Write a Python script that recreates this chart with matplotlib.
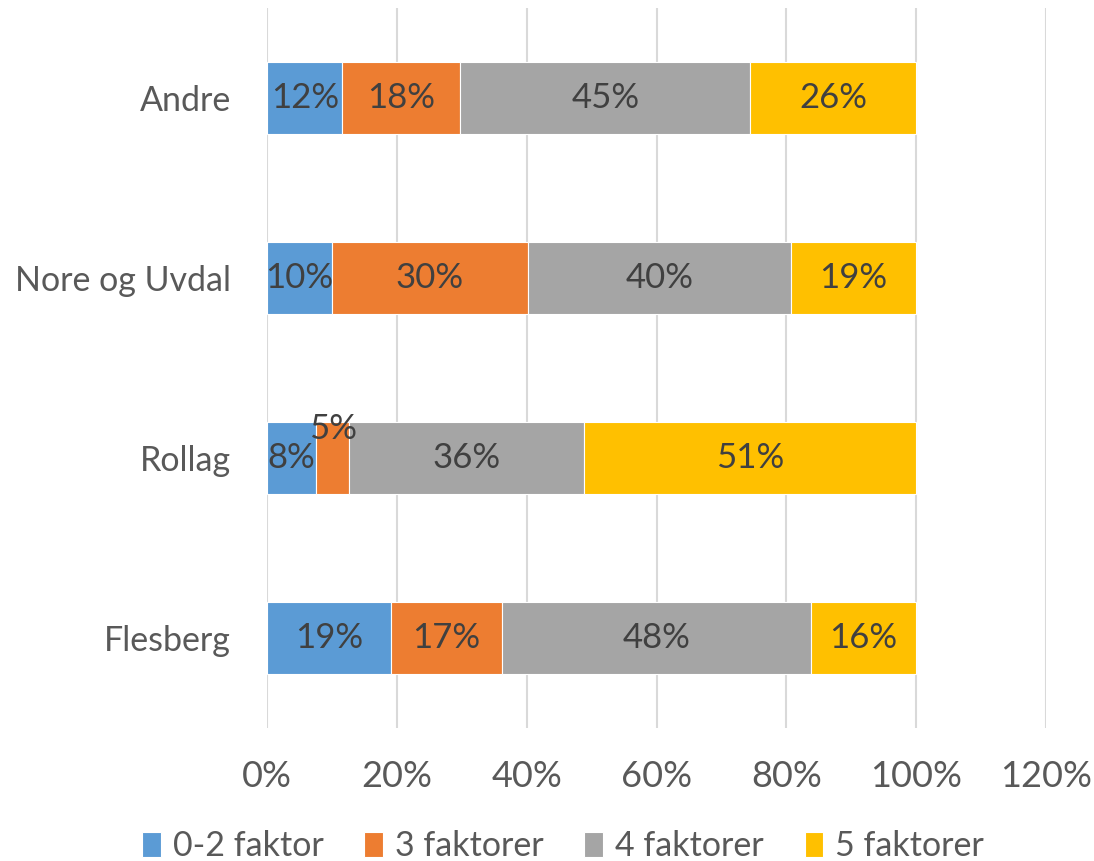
import numpy as np
import matplotlib.pyplot as plt
from matplotlib import rcParams

categories = ["Flesberg", "Rollag", "Nore og Uvdal", "Andre"]
series_names = ["0-2 faktor", "3 faktorer", "4 faktorer", "5 faktorer"]
v_02 = [19.1, 7.6, 10.0, 11.6]
v_3 = [17.1, 5.1, 30.2, 18.2]
v_4 = [47.6, 36.1, 40.5, 44.6]
v_5 = [16.2, 51.2, 19.3, 25.6]
colors = ["#5b9bd5", "#ed7d31", "#a5a5a5", "#ffc000"]

rcParams['font.family'] = ["Lato", "DejaVu Sans"]

fig = plt.figure(figsize=(10.94, 8.61), dpi=100)
ax = fig.add_axes([0.2441, 0.1545, 0.712, 0.8362])

y = np.arange(len(categories))
left = np.zeros(len(categories))
for vals, name, c in zip([v_02, v_3, v_4, v_5], series_names, colors):
    vals = np.array(vals)
    bars = ax.barh(y, vals / 100, left=left / 100, height=0.4, color=c,
                   edgecolor="white", linewidth=0.8, label=name, zorder=3)
    for i, (b, v) in enumerate(zip(bars, vals)):
        cx = (left[i] + v / 2) / 100
        # small segment: label pushed up like Excel does
        dy = 21 if v < 6 else 0
        ax.annotate("%d%%" % round(v), (cx, y[i]), xytext=(0, dy),
                    textcoords="offset points", ha="center", va="center",
                    fontsize=25, color="#404040", zorder=4)
    left += vals

ax.set_xlim(0, 1.2)
ax.set_ylim(-0.5, 3.5)
ax.set_xticks(np.arange(0, 1.21, 0.2))
ax.set_xticklabels(["%d%%" % t for t in range(0, 121, 20)])
ax.set_yticks(y)
ax.set_yticklabels(categories)
ax.tick_params(axis="both", length=0, labelcolor="#595959")
ax.tick_params(axis="x", pad=23, labelsize=26)
ax.tick_params(axis="y", pad=26, labelsize=24.5)
ax.grid(axis="x", color="#d9d9d9", linewidth=1.5, zorder=0)
for s in ax.spines.values():
    s.set_visible(False)

ax.legend(loc="center", bbox_to_anchor=(0.38, -0.164), ncol=4, frameon=False,
          fontsize=24.5, labelcolor="#595959", handlelength=0.55, handleheight=0.75,
          handletextpad=0.35, columnspacing=1.2, borderpad=0.2)

plt.savefig("out.png", dpi=100)
